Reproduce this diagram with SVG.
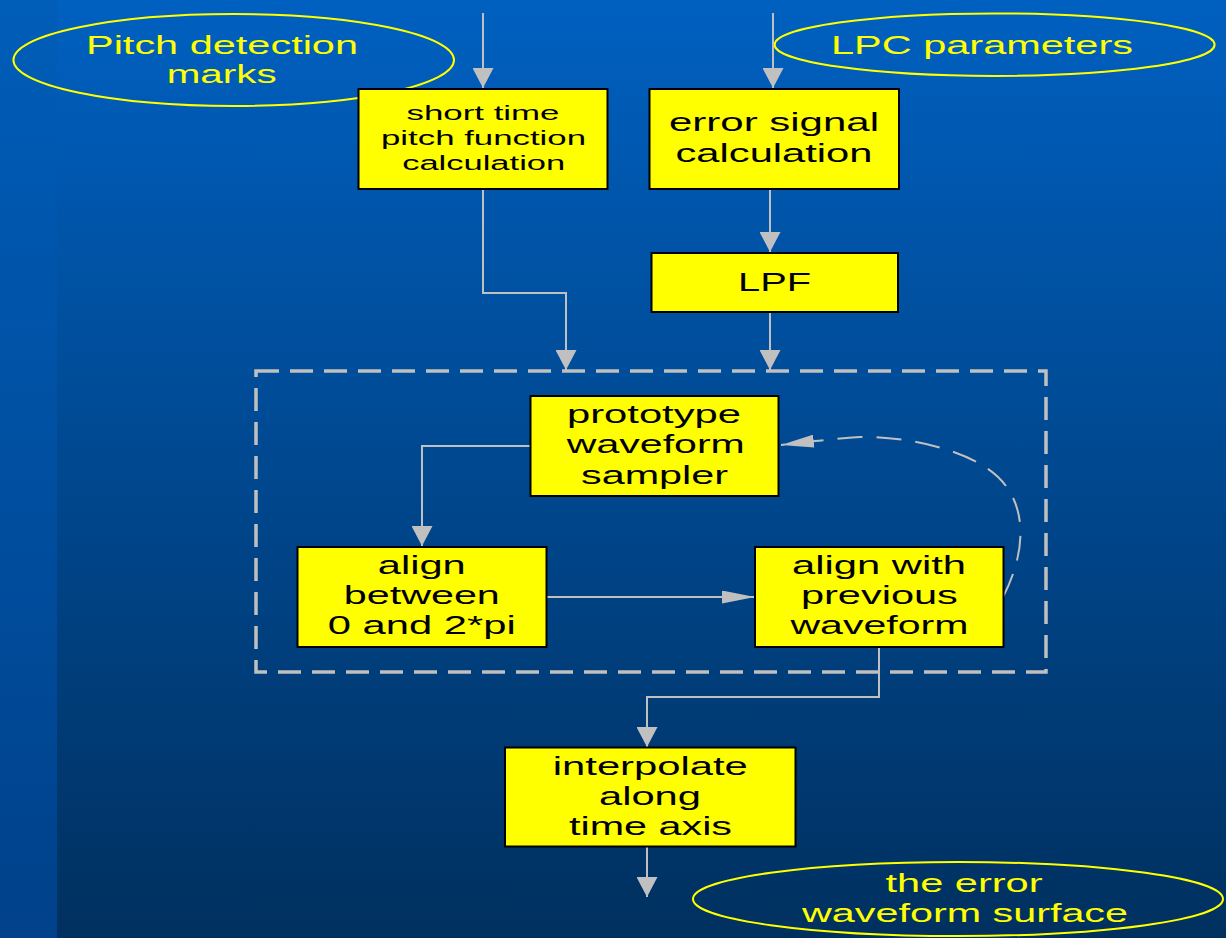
<svg xmlns="http://www.w3.org/2000/svg" width="1226" height="938" viewBox="0 0 1226 938">
<style>
.node rect{fill:#ffff00;stroke:#000;stroke-width:2}
.term ellipse{fill:none;stroke:#ffff00;stroke-width:2}
.t{font-family:"Liberation Sans",Arial,sans-serif;font-size:26px;fill:#000;text-anchor:middle}
.ts{font-family:"Liberation Sans",Arial,sans-serif;font-size:20px;fill:#000;text-anchor:middle}
.y{font-family:"Liberation Sans",Arial,sans-serif;font-size:26px;fill:#ffff00;text-anchor:middle}
.c{fill:none;stroke:#c0c0c0;stroke-width:2}
</style>
<defs>
<linearGradient id="bg" x1="0" y1="0" x2="0" y2="1">
<stop offset="0" stop-color="#0060c0"/>
<stop offset="1" stop-color="#00305f"/>
</linearGradient>
<linearGradient id="bgs" x1="0" y1="0" x2="0" y2="1">
<stop offset="0" stop-color="#005db8"/>
<stop offset="1" stop-color="#00418a"/>
</linearGradient>
<marker id="arrV" markerUnits="userSpaceOnUse" markerWidth="20" markerHeight="21" refX="20" refY="10.5" orient="auto"><path d="M0,0 L20,10.5 L0,21 Z" fill="#c0c0c0"/></marker>
<marker id="arrH" markerUnits="userSpaceOnUse" markerWidth="33" markerHeight="13" refX="33" refY="6.5" orient="auto"><path d="M0,0 L33,6.5 L0,13 Z" fill="#c0c0c0"/></marker>
</defs>
<rect x="0" y="0" width="1226" height="938" fill="url(#bg)"/>
<rect x="0" y="0" width="57" height="938" fill="url(#bgs)"/>

<g id="pitch-marks" class="term">
<ellipse cx="233.7" cy="60" rx="220.3" ry="46"/>
<text class="y" x="222" y="53.5" textLength="272" lengthAdjust="spacingAndGlyphs">Pitch detection</text>
<text class="y" x="221.7" y="82.5" textLength="110" lengthAdjust="spacingAndGlyphs">marks</text>
</g>
<g id="lpc-params" class="term">
<ellipse cx="994.6" cy="44.7" rx="220" ry="31.3"/>
<text class="y" x="982" y="53.5" textLength="302" lengthAdjust="spacingAndGlyphs">LPC parameters</text>
</g>
<g id="error-surface" class="term">
<ellipse cx="958" cy="899" rx="265" ry="37"/>
<text class="y" x="964" y="891.7" textLength="157" lengthAdjust="spacingAndGlyphs">the error</text>
<text class="y" x="965" y="922.3" textLength="326" lengthAdjust="spacingAndGlyphs">waveform surface</text>
</g>

<rect id="group-box" x="256" y="371" width="790" height="301" fill="none" stroke="#c0c0c0" stroke-width="3.5" stroke-dasharray="23 11"/>

<g id="connectors">
<path class="c" d="M483,13 L483,88" marker-end="url(#arrV)"/>
<path class="c" d="M773,13 L773,88" marker-end="url(#arrV)"/>
<path class="c" d="M483,189 L483,293 L566,293 L566,370" marker-end="url(#arrV)"/>
<path class="c" d="M770,189 L770,252" marker-end="url(#arrV)"/>
<path class="c" d="M770,312 L770,370" marker-end="url(#arrV)"/>
<path class="c" d="M530,446 L422,446 L422,546" marker-end="url(#arrV)"/>
<path class="c" d="M546,597 L755,597" marker-end="url(#arrH)"/>
<path class="c" d="M879,647 L879,697 L647,697 L647,747" marker-end="url(#arrV)"/>
<path class="c" d="M647,847 L647,897" marker-end="url(#arrV)"/>
<path class="c" d="M1003,597 C1030,545 1027,493 985,467 C955,447 900,436 860,437 C840,438 828,440 815,441 L781,445" stroke-dasharray="25 14" marker-end="url(#arrH)"/>
</g>

<g id="short-time-pitch" class="node">
<rect x="358.5" y="89" width="249" height="100"/>
<text class="ts" x="483" y="119.5" textLength="153" lengthAdjust="spacingAndGlyphs">short time</text>
<text class="ts" x="483.5" y="144.5" textLength="205" lengthAdjust="spacingAndGlyphs">pitch function</text>
<text class="ts" x="483.7" y="170" textLength="163" lengthAdjust="spacingAndGlyphs">calculation</text>
</g>
<g id="error-signal" class="node">
<rect x="649.5" y="89" width="249.5" height="100"/>
<text class="t" x="774" y="131" textLength="210" lengthAdjust="spacingAndGlyphs">error signal</text>
<text class="t" x="774" y="162" textLength="197" lengthAdjust="spacingAndGlyphs">calculation</text>
</g>
<g id="lpf" class="node">
<rect x="651.5" y="253" width="246.5" height="59"/>
<text class="t" x="774.5" y="291" textLength="73" lengthAdjust="spacingAndGlyphs">LPF</text>
</g>
<g id="prototype-sampler" class="node">
<rect x="530.5" y="396" width="248" height="100"/>
<text class="t" x="654" y="423" textLength="174" lengthAdjust="spacingAndGlyphs">prototype</text>
<text class="t" x="655.8" y="453.3" textLength="178" lengthAdjust="spacingAndGlyphs">waveform</text>
<text class="t" x="654.5" y="483.5" textLength="147" lengthAdjust="spacingAndGlyphs">sampler</text>
</g>
<g id="align-between" class="node">
<rect x="297.5" y="547" width="249" height="100"/>
<text class="t" x="421.8" y="573.5" textLength="88" lengthAdjust="spacingAndGlyphs">align</text>
<text class="t" x="421.8" y="603.5" textLength="156" lengthAdjust="spacingAndGlyphs">between</text>
<text class="t" x="421.8" y="634" textLength="188" lengthAdjust="spacingAndGlyphs">0 and 2*pi</text>
</g>
<g id="align-previous" class="node">
<rect x="755" y="547" width="248.5" height="100"/>
<text class="t" x="879" y="573.5" textLength="174" lengthAdjust="spacingAndGlyphs">align with</text>
<text class="t" x="879.4" y="603.5" textLength="157" lengthAdjust="spacingAndGlyphs">previous</text>
<text class="t" x="879.4" y="634" textLength="178" lengthAdjust="spacingAndGlyphs">waveform</text>
</g>
<g id="interpolate" class="node">
<rect x="505" y="747.5" width="290.5" height="99"/>
<text class="t" x="650.3" y="775" textLength="195" lengthAdjust="spacingAndGlyphs">interpolate</text>
<text class="t" x="650" y="805" textLength="102" lengthAdjust="spacingAndGlyphs">along</text>
<text class="t" x="650.5" y="834.5" textLength="163" lengthAdjust="spacingAndGlyphs">time axis</text>
</g>
</svg>
